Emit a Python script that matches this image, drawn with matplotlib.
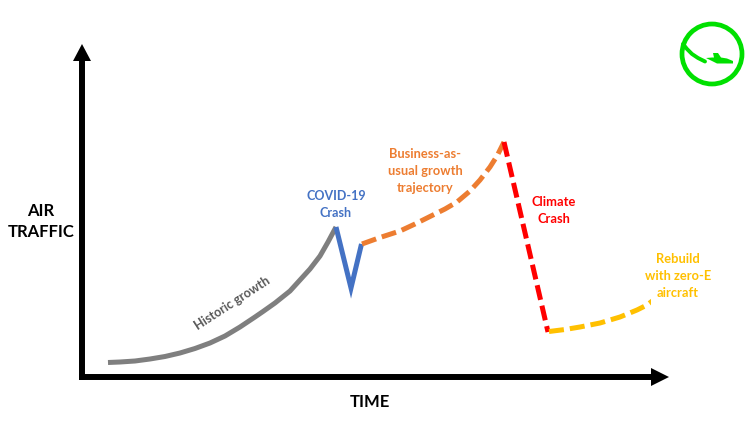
import matplotlib
matplotlib.use("Agg")
import matplotlib.pyplot as plt
from matplotlib.patches import Circle, Polygon

plt.rcParams['font.family'] = ['Lato', 'DejaVu Sans']

# values, in arbitrary time / traffic units
historic_t = [25.5, 37.5, 52.5, 67.5, 82.5, 97.5, 112.5, 127.5, 142.5, 157.5, 172.5, 180.5, 192.5, 207.5, 217.5, 227.5, 237.5, 245.5, 253.5]
historic_y = [14.5, 15, 16, 18, 20.5, 24, 28.5, 34, 41, 50, 60, 65.5, 74, 86, 97, 108, 121, 135, 150]
covid_t = [253.5, 268.5, 279]
covid_y = [150, 89, 133]
bau_t = [279.5, 297.5, 317.5, 332.5, 347.5, 362.5, 374.5, 387.5, 397.5, 407.5, 414.5, 421.5]
bau_y = [133, 139.5, 146, 153, 160.5, 168, 175, 186, 197, 210, 221, 235]
climate_t = [421.5, 465.5]
climate_y = [235, 45]
rebuild_t = [466.5, 482.5, 497.5, 517.5, 537.5, 554.5, 564.5, 572.5]
rebuild_y = [45.5, 47.5, 50, 54, 60, 67, 72, 78]

GREY = '#7f7f7f'
BLUE = '#4472c4'
ORANGE = '#ed7d31'
RED = '#ff0000'
YELLOW = '#ffc000'
GREEN = '#00e000'
DASH = (3.0, 1.2)

fig = plt.figure(figsize=(7.51, 4.27), dpi=100)
ax = fig.add_axes([82 / 751, 49 / 427, 569 / 751, 316 / 427])
ax.set_xlim(-0.5, 568.5)
ax.set_ylim(0, 316)

for s in ['top', 'right']:
    ax.spines[s].set_visible(False)
for s in ['left', 'bottom']:
    ax.spines[s].set_linewidth(4.3)
    ax.spines[s].set_color('black')
ax.set_xticks([])
ax.set_yticks([])

# arrow heads on the axes
ax.add_patch(Polygon([(-9.5, 316), (8.5, 316), (-0.5, 333)], color='black', lw=0, clip_on=False))
ax.add_patch(Polygon([(568.5, -9), (568.5, 9), (586.5, 0)], color='black', lw=0, clip_on=False))

ax.plot(historic_t, historic_y, color=GREY, lw=3.6, solid_capstyle='butt')
ax.plot(covid_t, covid_y, color=BLUE, lw=3.6, solid_joinstyle='miter', solid_capstyle='butt')
ax.plot(bau_t, bau_y, color=ORANGE, lw=3.6, dashes=DASH)
ax.plot(climate_t, climate_y, color=RED, lw=3.6, dashes=DASH)
ax.plot(rebuild_t, rebuild_y, color=YELLOW, lw=3.6, dashes=DASH)

ax.text(149.5, 75, 'Historic growth', color='#595959', fontsize=9, fontweight='bold',
        rotation=33, ha='center', va='center')
ax.text(253.5, 173, 'COVID-19\nCrash', color=BLUE, fontsize=9, fontweight='bold',
        ha='center', va='center', linespacing=1.5)
ax.text(342.5, 207, 'Business-as-\nusual growth\ntrajectory', color=ORANGE, fontsize=9.3,
        fontweight='bold', ha='center', va='center', linespacing=1.5)
ax.text(471.5, 167, 'Climate\nCrash', color=RED, fontsize=9.3, fontweight='bold',
        ha='center', va='center', linespacing=1.5)
ax.text(595.5, 102, 'Rebuild\nwith zero-E\naircraft', color=YELLOW, fontsize=9.3, fontweight='bold',
        ha='center', va='center', linespacing=1.5, clip_on=False)

fig.text(41 / 751, 1 - 221.5 / 427, 'AIR\nTRAFFIC', fontsize=12, fontweight='bold',
         ha='center', va='center', linespacing=1.45)
fig.text(369.5 / 751, 1 - 402 / 427, 'TIME', fontsize=12, fontweight='bold', ha='center', va='center')

# logo top right
logo = fig.add_axes([676 / 751, 1 - 91 / 427, 72 / 751, 72 / 427])
logo.set_xlim(-36, 36)
logo.set_ylim(-36, 36)
logo.axis('off')
logo.add_patch(Circle((0, 0), 30, fill=False, ec=GREEN, lw=3.4))
logo.plot([-29, -25, -20, -14, -7], [10, 5, 0, -4, -7.5], color=GREEN, lw=2.8, solid_capstyle='round')
logo.add_patch(Polygon([(-6, -4), (0, -3.5), (2, -3.5), (1, 1), (6, 1), (9, -3.5), (15, -4.5), (21, -7),
                        (21, -9.5), (5, -9.5)], closed=True, color=GREEN, lw=0))

fig.savefig('out.png', dpi=100, facecolor='white')
